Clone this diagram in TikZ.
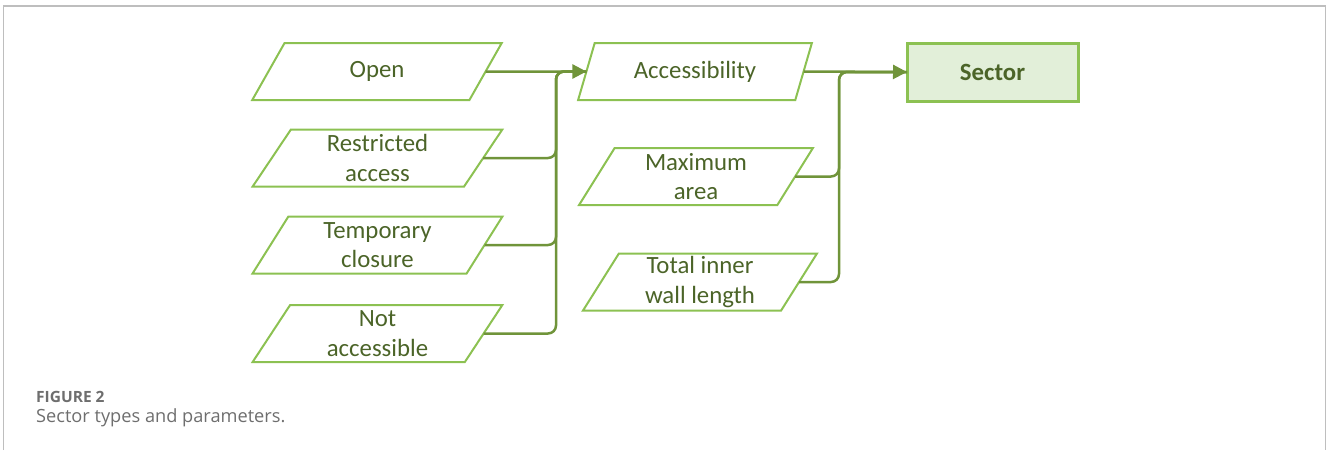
\documentclass[tikz,border=0pt]{standalone}
\usepackage{fontspec}
\setmainfont{Carlito}
\newfontfamily\capfont{Open Sans}
\usetikzlibrary{shapes.geometric,arrows.meta}
\definecolor{boxline}{RGB}{140,193,82}
\definecolor{connline}{RGB}{112,148,58}
\definecolor{txtgreen}{RGB}{75,100,40}
\definecolor{sectfill}{RGB}{226,239,217}
\definecolor{framegray}{RGB}{190,190,190}
\definecolor{capgray}{RGB}{110,110,110}
\tikzset{
  para/.style={trapezium, trapezium left angle=64.5, trapezium right angle=115.5,
    trapezium stretches=true, draw=boxline, line width=2pt, text=txtgreen,
    font=\fontsize{24.8}{29.5}\selectfont, align=center, inner sep=0pt, outer sep=0pt,
    minimum height=57pt},
  leftpara/.style={para, minimum width=250pt},
  midpara/.style={para, minimum width=234pt},
  sectbox/.style={rectangle, draw=boxline, fill=sectfill, line width=3pt, text=txtgreen,
    font=\fontsize{24.8}{29.5}\selectfont\bfseries, minimum width=171pt, minimum height=58pt,
    inner sep=0pt, outer sep=0pt},
  conn/.style={draw=connline, line width=2.5pt, rounded corners=8pt},
  arr/.style={conn, -{Triangle[length=14pt,width=14pt]}},
  frame/.style={draw=framegray, line width=1.5pt}
}
\begin{document}
\begin{tikzpicture}[x=1pt,y=-1pt]
\useasboundingbox (0,0) rectangle (1327,450);
\draw[frame] (3.5,450) -- (3.5,6) -- (1325.5,6) -- (1325.5,450);

\node[leftpara] (open) at (377,71.5) {Open};
\node[leftpara] (restr) at (377.5,158) {Restricted\\access};
\node[leftpara] (temp) at (377.5,245) {Temporary\\closure};
\node[leftpara] (notacc) at (377.5,333.5) {Not\\accessible};

\node[midpara] (acc) at (695,71.5) {Accessibility};
\node[midpara] (maxa) at (696,176.5) {Maximum\\area};
\node[midpara] (wall) at (700,282) {Total inner\\wall length};

\node[sectbox] (sector) at (992.5,72) {Sector};

\coordinate (j1) at (556,71.5);
\coordinate (j2) at (839,72);

\draw[conn] (restr.east) -| (j1) -- (acc.west);
\draw[conn] (temp.east) -| (j1) -- (acc.west);
\draw[conn] (notacc.east) -| (j1) -- (acc.west);
\draw[arr] (open.east) -- (acc.west);

\draw[conn] (maxa.east) -| (j2) -- (sector.west);
\draw[conn] (wall.east) -| (j2) -- (sector.west);
\draw[arr] (acc.east) -- (sector.west);

\node[anchor=base west, inner sep=0pt, text=capgray, font=\capfont\fontsize{15.5}{18}\selectfont\bfseries] (figlab) at (36,402) {FIGURE 2};
\node[anchor=base west, inner sep=0pt, text=capgray, font=\capfont\fontsize{18.2}{21}\selectfont] (caption) at (36,422) {Sector types and parameters.};
\end{tikzpicture}
\end{document}
